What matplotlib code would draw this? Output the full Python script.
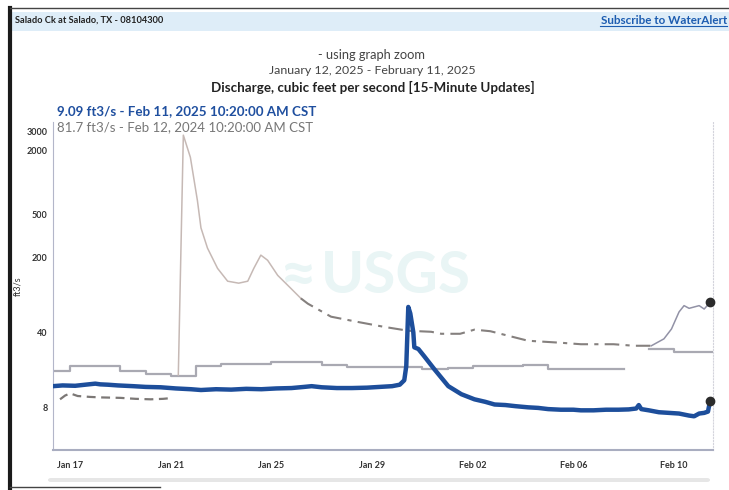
import numpy as np
import pandas as pd
import matplotlib
matplotlib.use("Agg")
import matplotlib.pyplot as plt
from matplotlib import patches, lines

plt.rcParams['font.family'] = ['Lato', 'DejaVu Sans']

# ---------------- data (days counted from Jan 17, 2025 00:00) ----------------
base = pd.Timestamp('2025-01-17')

# 2025 discharge, ft3/s
q25_days = [-0.68, -0.3, 0.2, 0.6, 1.0, 1.2, 1.5, 1.9, 2.5, 3.0, 3.6, 4.2, 4.8, 5.2,
            5.8, 6.4, 7.0, 7.6, 8.2, 8.8, 9.3, 9.6, 10.0, 10.6, 11.2, 11.8, 12.3, 12.8,
            13.1, 13.28, 13.36, 13.44, 13.52, 13.64, 13.68, 13.84, 14.07, 14.47, 15.03,
            15.55, 16.07, 16.5, 16.87, 17.3, 17.7, 18.2, 18.6, 19.0, 19.5, 20.0, 20.3,
            20.8, 21.3, 21.8, 22.2, 22.5, 22.6, 22.7, 23.0, 23.4, 23.8, 24.2, 24.6,
            24.8, 25.0, 25.2, 25.35, 25.43]
q25_vals = [12.6, 12.8, 12.7, 13.0, 13.3, 13.1, 13.0, 12.8, 12.6, 12.4, 12.3, 12.0, 11.8, 11.6,
            11.8, 11.7, 11.9, 11.8, 12.0, 12.1, 12.4, 12.6, 12.3, 12.1, 12.1, 12.2, 12.4, 12.6,
            13.0, 14.3, 19.4, 69, 60, 40, 29, 28, 24, 18.2, 12.6,
            10.6, 9.5, 9.0, 8.5, 8.4, 8.2, 8.0, 7.9, 7.7, 7.6, 7.6, 7.5,
            7.5, 7.6, 7.6, 7.65, 7.8, 8.4, 7.7, 7.5, 7.2, 7.1, 7.0, 6.7,
            6.6, 7.0, 7.1, 7.3, 9.09]

# 2024 discharge (same calendar days, one year earlier)
q24a_days = [-0.4, -0.2, 0.0, 0.3, 0.8, 1.2, 2.0, 2.6, 3.2, 3.7, 4.1]
q24a_vals = [9.5, 10.3, 10.8, 10.2, 10.0, 9.9, 9.8, 9.6, 9.5, 9.6, 9.8]
q24b_days = [4.3, 4.5, 4.78, 5.06, 5.2, 5.46, 5.86, 6.26, 6.7, 7.06, 7.3, 7.58,
             7.85, 8.25, 8.77, 9.17]
q24b_vals = [16, 2760, 1714, 676, 377, 244, 158, 120, 115, 120, 158, 210,
             188, 136, 103, 83]
q24c_days = [9.17, 9.45, 10.37, 11.44, 12.48, 13.44, 14.35, 14.75, 15.5, 16.07, 16.7,
             18.2, 19.5, 20.3, 21.6, 22.4, 23.1]
q24c_vals = [83, 74, 56, 50, 45, 41.4, 40.5, 38.8, 38.8, 42.4, 41,
             33.4, 32, 31, 31, 30, 30]
q24d_days = [23.1, 23.6, 23.9, 24.2, 24.4, 24.6, 25.0, 25.2, 25.43]
q24d_vals = [30, 34.8, 43, 62, 71, 67, 71, 66, 76]

# daily median statistic (one value per day, from Jan 16)
med_days = np.arange(-1, 27)
med_vals = [17.4, 19.4, 19.4, 17.4, 16.3, 15.6, 19.4, 20.3, 20.3, 21.2, 21.2, 19.9, 19.0,
            19.0, 19.0, 18.2, 18.5, 19.4, 19.4, 19.9, 18.2, 18.2, 18.2, np.nan, 28, 26.3,
            26.3, 26.3]

yticks = [8, 40, 200, 500, 2000, 3000]
xtick_days = [0, 4, 8, 12, 16, 20, 24]
xtick_labels = ['Jan 17', 'Jan 21', 'Jan 25', 'Jan 29', 'Feb 02', 'Feb 06', 'Feb 10']


def to_time(days):
    return base + pd.to_timedelta(np.asarray(days, dtype=float), unit='D')


# ---------------- figure ----------------
fig = plt.figure(figsize=(7.29, 4.90), dpi=100)
W, H = 729, 490


def fx(px):
    return px / W


def fy(py):
    return 1 - py / H


# outer frame / header
fig.patches.append(patches.Rectangle((fx(12), fy(31)), fx(729 - 12), 19 / H,
                                     transform=fig.transFigure, fc='#deedf8', ec='none'))
fig.lines.append(lines.Line2D([fx(10), fx(10)], [fy(8), fy(490)], transform=fig.transFigure,
                              color='#1a1a1a', lw=3))
fig.lines.append(lines.Line2D([fx(10), 1], [fy(8), fy(8)], transform=fig.transFigure,
                              color='#444444', lw=1))
fig.lines.append(lines.Line2D([fx(10), fx(160)], [fy(487), fy(487)], transform=fig.transFigure,
                              color='#444444', lw=1))
fig.text(fx(15), fy(20), 'Salado Ck at Salado, TX - 08104300', fontsize=6.7, fontweight='bold',
         color='#222222', va='center')
fig.text(fx(727), fy(20), 'Subscribe to WaterAlert', fontsize=8.4, fontweight='bold',
         color='#1c5cb0', va='center', ha='right')
fig.lines.append(lines.Line2D([fx(600), fx(727)], [fy(26), fy(26)], transform=fig.transFigure,
                              color='#1c5cb0', lw=0.8))

# titles
fig.text(fx(372), fy(55), '- using graph zoom', fontsize=9.3, color='#444444',
         ha='center', va='center')
fig.text(fx(372), fy(71), 'January 12, 2025 - February 11, 2025', fontsize=8.9,
         color='#444444', ha='center', va='center')
fig.text(fx(373), fy(87), 'Discharge, cubic feet per second [15-Minute Updates]', fontsize=9.6,
         fontweight='bold', color='#222222', ha='center', va='center')
fig.text(fx(57), fy(111), '9.09 ft3/s - Feb 11, 2025 10:20:00 AM CST', fontsize=9.6,
         fontweight='bold', color='#1f4f9f', va='center')

# scrollbar
fig.patches.append(patches.FancyBboxPatch((fx(48), fy(482)), fx(662), 4 / H,
                                          boxstyle='round,pad=0,rounding_size=0.004',
                                          transform=fig.transFigure, fc='#e6e6e6', ec='none'))

ax = fig.add_axes([fx(53), fy(450), fx(713 - 53), (450 - 122) / H])
ax.set_yscale('log')
ax.set_ylim(3.2, 3660)
ax.set_xlim(to_time([-0.68])[0], to_time([25.55])[0])

# watermark
ax.text(0.52, 0.53, 'USGS', transform=ax.transAxes, fontsize=42, fontweight='bold',
        color='#e9f5f5', ha='center', va='center', zorder=0)
ax.text(0.37, 0.53, '\u2248', transform=ax.transAxes, fontsize=46, fontweight='bold',
        color='#e9f5f5', ha='center', va='center', zorder=0)

# median steps
ax.plot(to_time(med_days), med_vals, drawstyle='steps-post', color='#a9a9b2', lw=1.6, zorder=2)

# 2024 series
ax.plot(to_time(q24a_days), q24a_vals, color='#7c7876', lw=1.6, ls=(0, (4, 2.5)), zorder=3)
ax.plot(to_time(q24b_days), q24b_vals, color='#c6b9b5', lw=1.1, zorder=3)
ax.plot(to_time(q24c_days), q24c_vals, color='#85807e', lw=1.5, ls=(0, (7, 3, 2, 3)), zorder=3)
ax.plot(to_time(q24d_days), q24d_vals, color='#9292a6', lw=1.1, zorder=3)
ax.plot(to_time(q24d_days[-1:]), q24d_vals[-1:], 'o', color='#2b2b2b', ms=6, clip_on=False,
        zorder=5)

# 2025 series
ax.plot(to_time(q25_days), q25_vals, color='#1d4e9b', lw=3.2, solid_joinstyle='round', zorder=4)
ax.plot(to_time(q25_days[-1:]), q25_vals[-1:], 'o', color='#2b2b2b', ms=6, clip_on=False,
        zorder=5)

ax.text(0.006, 0.985, '81.7 ft3/s - Feb 12, 2024 10:20:00 AM CST', transform=ax.transAxes,
        fontsize=9.5, color='#777777', va='center', ha='left')

# axes styling
ax.set_yticks(yticks)
ax.set_yticklabels([str(v) for v in yticks])
ax.minorticks_off()
ax.set_xticks(to_time(xtick_days))
ax.set_xticklabels(xtick_labels)
ax.tick_params(axis='both', length=0, labelsize=6.5, colors='#333333')
ax.tick_params(axis='y', pad=4)
ax.tick_params(axis='x', pad=8)
for lab in ax.get_xticklabels() + ax.get_yticklabels():
    lab.set_fontweight('bold')
ax.set_ylabel('ft3/s', fontsize=6.5, color='#333333', labelpad=3)
ax.spines['top'].set_visible(False)
ax.spines['left'].set_color('#b3b6c9')
ax.spines['bottom'].set_color('#a9adc0')
ax.spines['bottom'].set_linewidth(1.5)
ax.spines['right'].set_color('#d4d4dc')
ax.spines['right'].set_linestyle(':')
ax.patch.set_alpha(0)

fig.savefig('out.png', dpi=100)
